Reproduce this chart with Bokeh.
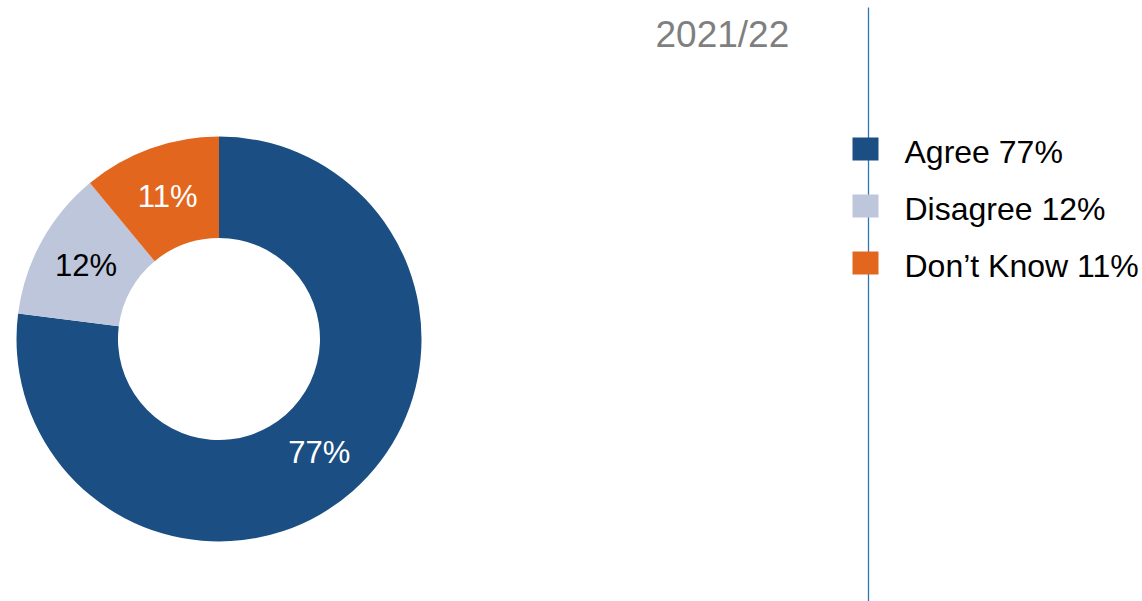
import numpy as np
from bokeh.plotting import figure
from bokeh.models import Range1d, ColumnDataSource
from bokeh.core.properties import value
from bokeh.embed import file_html
from bokeh.resources import INLINE

# ---- data ----
categories = ["Agree", "Disagree", "Don\u2019t Know"]
percents = [77, 12, 11]
colors = ["#1B4F83", "#BDC6DA", "#E3661F"]
label_colors = ["white", "black", "white"]
title_text = "2021/22"

# ---- layout (pixel-like data space, origin top-left of picture) ----
W, H = 1142, 601
FONT = "Liberation Sans"


def X(px):
    return px


def Y(py):
    return H - py


p = figure(width=W, height=H, x_range=Range1d(0, W), y_range=Range1d(0, H),
           output_backend="svg", toolbar_location=None, tools="", min_border=0)
p.axis.visible = False
p.grid.visible = False
p.outline_line_color = None
p.background_fill_color = "white"
p.border_fill_color = "white"

cx, cy = X(218.5), Y(338.5)
r_out, r_in = 202.5, 101.0

frac = np.array(percents, dtype=float) / sum(percents)
cum = np.concatenate([[0.0], np.cumsum(frac)])
start = np.pi / 2 - 2 * np.pi * cum[:-1]
end = np.pi / 2 - 2 * np.pi * cum[1:]
mid = np.pi / 2 - 2 * np.pi * (cum[:-1] + frac / 2)
r_mid = (r_out + r_in) / 2

src = ColumnDataSource(dict(
    cat=categories, pct=percents, color=colors, lcolor=label_colors,
    start=start, end=end,
    lx=cx + r_mid * np.cos(mid), ly=cy + r_mid * np.sin(mid),
    label=[f"{v}%" for v in percents],
))

p.annular_wedge(x=cx, y=cy, inner_radius=r_in, outer_radius=r_out,
                start_angle="start", end_angle="end", direction="clock",
                fill_color="color", line_color=None, source=src)

p.text(x="lx", y="ly", text="label", text_color="lcolor", source=src,
       text_font=value(FONT), text_font_size="31px",
       text_align="center", text_baseline="middle")

# title
p.text(x=[X(655)], y=[Y(34)], text=[title_text], text_color="#7F7F7F",
       text_font=value(FONT), text_font_size="37px",
       text_align="left", text_baseline="middle")

# vertical divider
p.segment(x0=[X(868)], y0=[Y(7)], x1=[X(868)], y1=[0],
          line_color="#2E75B6", line_width=1.3)

# legend
n = len(categories)
idx = np.arange(n)
text_y = Y(151.5) - 57 * idx
leg = ColumnDataSource(dict(
    color=colors,
    sx=np.full(n, X(865.0)),
    sy=text_y + 3,
    tx=np.full(n, X(904.0)),
    ty=text_y,
    text=[f"{c} {v}%" for c, v in zip(categories, percents)],
))
p.rect(x="sx", y="sy", width=26, height=23, fill_color="color",
       line_color=None, source=leg)
p.text(x="tx", y="ty", text="text", text_color="black", source=leg,
       text_font=value(FONT), text_font_size="32px",
       text_align="left", text_baseline="middle")

open("out.html", "w").write(file_html(p, INLINE))
